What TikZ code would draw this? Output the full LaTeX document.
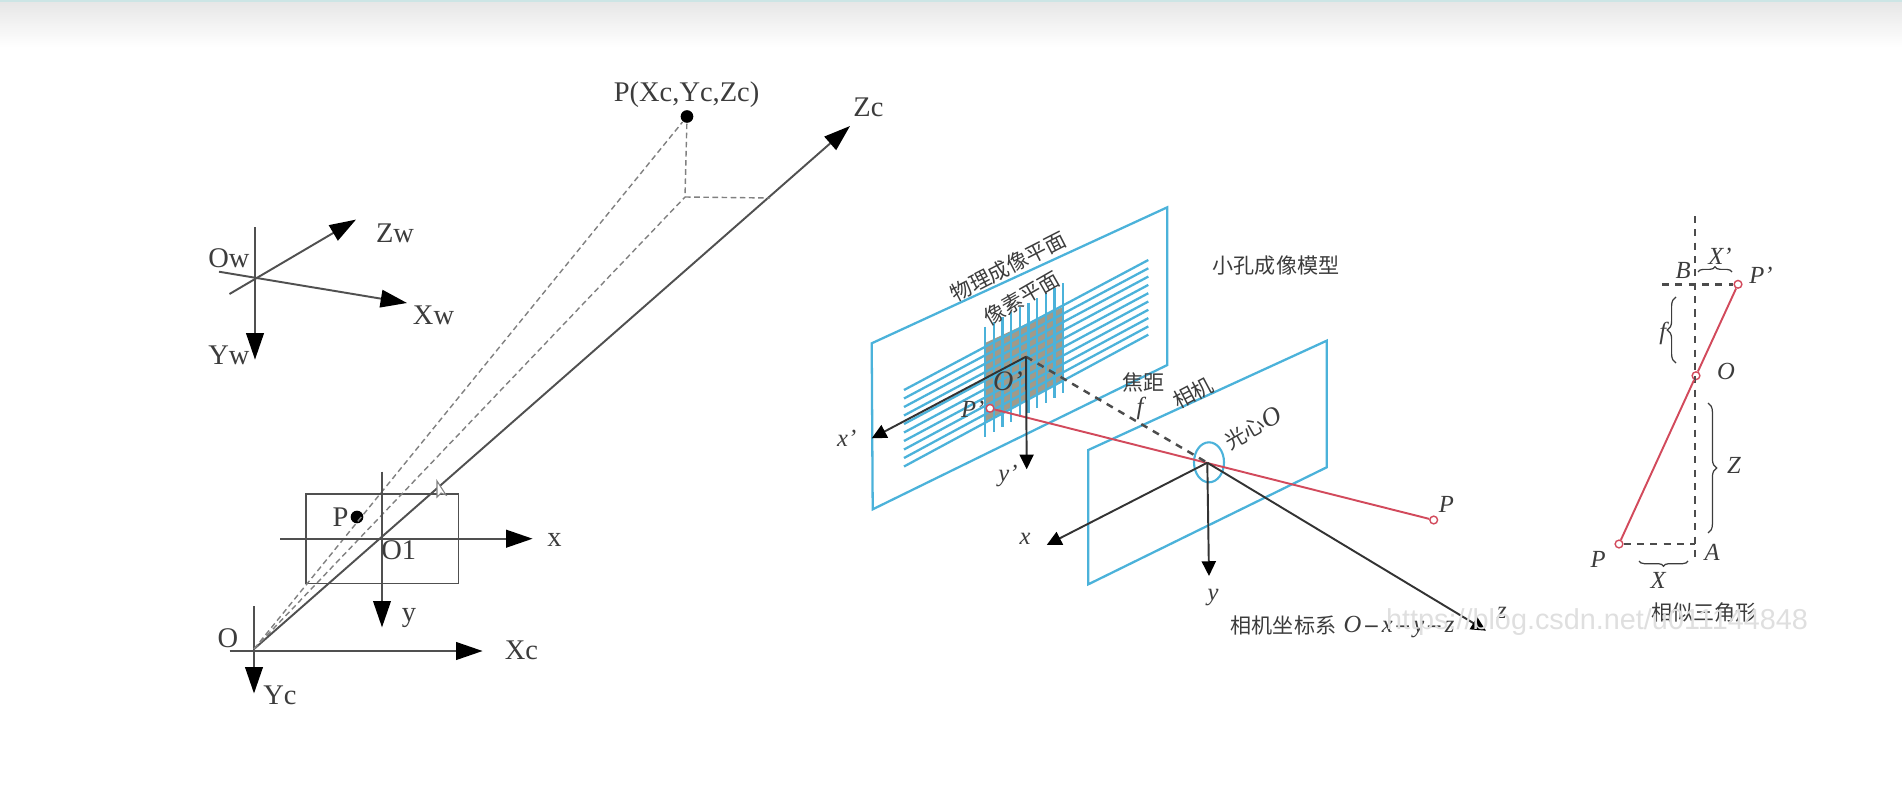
\documentclass[tikz,border=0pt]{standalone}
\usepackage{fontspec}
\setmainfont{Liberation Serif}
\setsansfont{Liberation Sans}
\newfontfamily\cjk{Noto Sans CJK SC}
\usepackage{xcolor}
\usetikzlibrary{arrows.meta,shapes.geometric,decorations.pathreplacing}
\definecolor{axisgray}{HTML}{505050}
\definecolor{planeblue}{HTML}{4BB2DA}
\definecolor{rayred}{HTML}{D24A5C}
\definecolor{textgray}{HTML}{3C3C3C}
\definecolor{pixeltan}{HTML}{A09A8A}
\tikzstyle{arrow} = [axisgray, line width=0.55pt, -{Triangle[length=7.5pt,width=5pt,color=black]}]
\tikzstyle{axis} = [black!80, line width=0.55pt, -{Triangle[length=4.2pt,width=4pt,color=black]}]
\tikzstyle{thinline} = [axisgray, line width=0.55pt]
\tikzstyle{guide} = [gray, line width=0.4pt, dash pattern=on 1.6pt off 1pt]
\tikzstyle{focal} = [black!70, line width=0.7pt, dash pattern=on 2pt off 1.8pt]
\tikzstyle{plane} = [planeblue, line width=0.65pt]
\tikzstyle{ray} = [rayred, line width=0.55pt]
\tikzstyle{redpoint} = [circle, draw=rayred, fill=white, line width=0.4pt, inner sep=0pt, minimum size=2.2pt]
\tikzstyle{bigdot} = [circle, fill=black, inner sep=0pt, minimum size=3.6pt]
\tikzstyle{curly} = [textgray, line width=0.35pt, decorate, decoration={brace,amplitude=2.5pt}]
\tikzstyle{flatcurly} = [textgray, line width=0.35pt, decorate, decoration={brace,amplitude=1.5pt}]
\begin{document}
\begin{tikzpicture}
		\useasboundingbox (0,0) rectangle (19.02,7.87);
		% Screenshot band
		\shade[top color=black!10, bottom color=white] (0,7.40) rectangle (19.02,7.87);
		\fill[teal!20] (0,7.85) rectangle (19.02,7.87);
		% World and camera frames
		\coordinate (ow) at (2.55,5.096);
		\coordinate (owtop) at (2.55,5.596);
		\coordinate (ywtip) at (2.55,4.274);
		\coordinate (zwstart) at (2.295,4.93);
		\coordinate (zwtip) at (3.56,5.674);
		\coordinate (xwstart) at (2.19,5.153);
		\coordinate (xwtip) at (4.07,4.84);
		\coordinate (oc) at (2.54,1.38);
		\coordinate (octop) at (2.54,1.81);
		\coordinate (yctip) at (2.54,0.935);
		\coordinate (xcstart) at (2.295,1.36);
		\coordinate (xctip) at (4.826,1.36);
		\coordinate (zctip) at (8.50,6.61);
		\coordinate (corner) at (6.85,5.90);
		\coordinate (zfoot) at (7.70,5.89);
		\coordinate (oone) at (3.82,2.483);
		\coordinate (oonetop) at (3.82,3.153);
		\coordinate (ytip) at (3.82,1.596);
		\coordinate (xstart) at (2.80,2.483);
		\coordinate (xtip) at (5.326,2.483);
		\node[bigdot, name=pworld] at (6.87,6.705) {};
		\node[bigdot, name=pimage] at (3.57,2.70) {};
		\node[name=imgrect, draw=axisgray, line width=0.5pt, minimum width=1.525cm, minimum height=0.895cm, inner sep=0pt] at (3.8225,2.4825) {};
		\draw [thinline] (owtop)--(ow);
		\draw [arrow] (ow)--(ywtip);
		\draw [arrow] (zwstart)--(zwtip);
		\draw [arrow] (xwstart)--(xwtip);
		\draw [thinline] (octop)--(oc);
		\draw [arrow] (oc)--(yctip);
		\draw [arrow] (xcstart)--(xctip);
		\draw [arrow] (oc)--(zctip);
		\draw [guide] (oc)--(pworld);
		\draw [guide] (oc)--(corner);
		\draw [guide] (pworld)--(corner);
		\draw [guide] (corner)--(zfoot);
		\draw [arrow] (oonetop)--(ytip);
		\draw [arrow] (xstart)--(xtip);
		% Labels of the left figure
		\begin{scope}[every node/.style={text=textgray, font=\fontsize{8.1}{8.1}\selectfont}]
		\node[name=lblow] at (2.29,5.29) {Ow};
		\node[name=lblzw] at (3.95,5.54) {Zw};
		\node[name=lblxw] at (4.335,4.72) {Xw};
		\node[name=lblyw] at (2.29,4.32) {Yw};
		\node[name=lblpworld] at (6.866,6.925) {P(Xc,Yc,Zc)};
		\node[name=lblzc] at (8.685,6.80) {Zc};
		\node[name=lblpimage] at (3.406,2.70) {P};
		\node[name=lblx] at (5.545,2.47) {x};
		\node[name=lbly] at (4.09,1.69) {y};
		\node[name=lbloone] at (3.987,2.37) {O1};
		\node[name=lbloc] at (2.28,1.49) {O};
		\node[name=lblxc] at (5.214,1.366) {Xc};
		\node[name=lblyc] at (2.80,0.92) {Yc};
		\end{scope}
		% Mouse pointer
		\draw[gray, fill=white, line width=0.3pt] (4.37,3.06) -- (4.37,2.90) -- (4.41,2.94) -- (4.46,2.92) -- cycle;
		% Planes
		\draw [plane] (8.717,4.437) -- (11.673,5.797) -- (11.673,4.22) -- (8.727,2.777) -- cycle;
		\draw [plane] (10.883,3.37) -- (13.267,4.463) -- (13.267,3.197) -- (10.883,2.027) -- cycle;
		\fill[pixeltan] (9.85,4.44) -- (10.633,4.803) -- (10.633,4.07) -- (9.85,3.653) -- cycle;
		\foreach \i in {0,...,9}
			\draw [plane] (9.04,3.97-\i*0.085) -- (11.483,5.27-\i*0.083);
		\foreach \i in {0,...,9}
			\draw [plane] (9.85+\i*0.087,4.603+\i*0.0482) -- (9.85+\i*0.087,3.503+\i*0.0482);
		% Pinhole model
		\coordinate (oprime) at (10.26,4.303);
		\coordinate (xptip) at (8.717,3.487);
		\coordinate (yptip) at (10.267,3.177);
		\coordinate (ocenter) at (12.073,3.243);
		\coordinate (xaxtip) at (10.467,2.42);
		\coordinate (yaxtip) at (12.09,2.11);
		\coordinate (zaxtip) at (14.86,1.563);
		\node[name=lens, ellipse, draw=planeblue, line width=0.6pt, minimum width=0.3cm, minimum height=0.4cm, inner sep=0pt] at (12.09,3.247) {};
		\node[redpoint, name=pprime] at (9.90,3.787) {};
		\node[redpoint, name=pscene] at (14.337,2.67) {};
		\draw [ray] (pprime)--(pscene);
		\draw [focal] (oprime)--(ocenter);
		\draw [axis] (oprime)--(xptip);
		\draw [axis] (oprime)--(yptip);
		\draw [axis] (ocenter)--(xaxtip);
		\draw [axis] (ocenter)--(yaxtip);
		\draw [axis] (ocenter)--(zaxtip);
		% Labels of the pinhole model
		\begin{scope}[every node/.style={text=textgray, font=\fontsize{7}{7}\selectfont\itshape}]
		\node[name=lblxp] at (8.467,3.49) {x'};
		\node[name=lblyp] at (10.08,3.11) {y'};
		\node[name=lblop, font=\fontsize{8}{8}\selectfont\itshape] at (10.08,4.06) {O'};
		\node[name=lblpp] at (9.727,3.777) {P'};
		\node[name=lblxax] at (10.25,2.477) {x};
		\node[name=lblyax] at (12.13,1.90) {y};
		\node[name=lblzax] at (15.02,1.74) {z};
		\node[name=lblpscene] at (14.464,2.83) {P};
		\node[name=lblf] at (11.40,3.79) {f};
		\node[name=lblframe] at (13.99,1.60) {O\,\textbf{–}\,x\,\textbf{–}\,y\,\textbf{–}\,z};
		\end{scope}
		\begin{scope}[every node/.style={text=textgray, font=\fontsize{6}{6}\selectfont\cjk}]
		\node[name=lblphys, rotate=27] at (10.08,5.203) {物理成像平面};
		\node[name=lblpixel, rotate=30] at (10.217,4.89) {像素平面};
		\node[name=lblmodel] at (12.76,5.21) {小孔成像模型};
		\node[name=lblfocal] at (11.433,4.043) {焦距};
		\node[name=lblcamera, rotate=28] at (11.93,3.94) {相机};
		\node[name=lbloptic, rotate=30] at (12.53,3.59) {光心{\rmfamily\itshape\fontsize{7.5}{7.5}\selectfont O}};
		\node[name=lblcoord] at (12.835,1.62) {相机坐标系};
		\node[name=lblsimilar] at (17.04,1.74) {相似三角形};
		\end{scope}
		% Similar triangles
		\coordinate (axtop) at (16.95,5.71);
		\coordinate (axbot) at (16.95,2.29);
		\coordinate (pointa) at (16.95,2.43);
		\coordinate (topstart) at (16.62,5.027);
		\node[redpoint, name=ptop] at (17.38,5.027) {};
		\node[redpoint, name=pmid] at (16.96,4.113) {};
		\node[redpoint, name=pbot] at (16.19,2.43) {};
		\draw [focal] (axtop)--(axbot);
		\draw [focal] (topstart)--(ptop);
		\draw [focal] (pbot)--(pointa);
		\draw [ray] (pbot)--(pmid);
		\draw [ray] (pmid)--(ptop);
		\draw [flatcurly] (16.98,5.15) -- (17.32,5.15);
		\draw [curly] (16.76,4.24) -- (16.76,4.90);
		\draw [curly] (17.08,3.84) -- (17.08,2.54);
		\draw [flatcurly] (16.88,2.26) -- (16.39,2.26);
		\begin{scope}[every node/.style={text=textgray, font=\fontsize{7}{7}\selectfont\itshape}]
		\node[name=lblxtop] at (17.2,5.31) {X'};
		\node[name=lblb] at (16.83,5.163) {B};
		\node[name=lblptop] at (17.61,5.12) {P'};
		\node[name=lblftri] at (16.628,4.537) {f};
		\node[name=lblo] at (17.26,4.153) {O};
		\node[name=lblz] at (17.34,3.22) {Z};
		\node[name=lbla] at (17.12,2.343) {A};
		\node[name=lblpbot] at (15.98,2.277) {P};
		\node[name=lblxbot] at (16.58,2.07) {X};
		\end{scope}
		% Watermark
		\node[name=watermark, text=gray!25, font=\sffamily\fontsize{8.2}{8.2}\selectfont] at (15.97,1.65) {https://blog.csdn.net/u011144848};
\end{tikzpicture}
\end{document}
